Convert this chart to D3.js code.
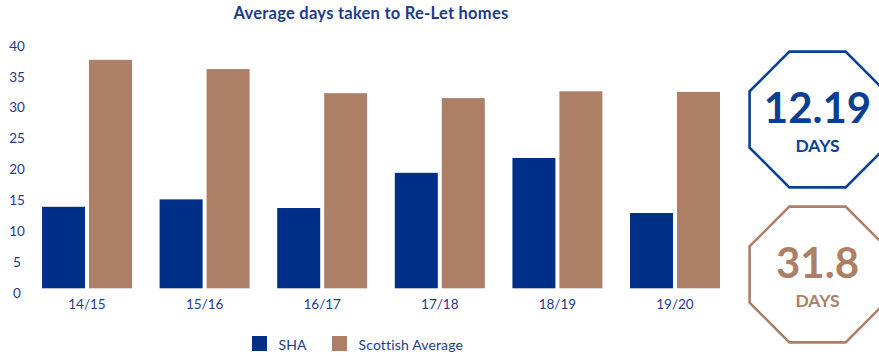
<!DOCTYPE html>
<html>
<head>
<meta charset="utf-8">
<script src="https://cdn.jsdelivr.net/npm/d3@7"></script>
<style>
  body { margin: 0; background: #fff; }
  svg { display: block; font-family: Lato, "Open Sans", sans-serif; }
</style>
</head>
<body>
<svg id="chart" width="879" height="356"></svg>
<script>
// values
const years = ['14/15', '15/16', '16/17', '17/18', '18/19', '19/20'];
const seriesNames = ['SHA', 'Scottish Average'];
const shaDays = [13.2, 14.4, 13.0, 18.7, 21.1, 12.19];
const scottishDays = [37.0, 35.5, 31.6, 30.8, 31.9, 31.8];
const yTicks = [0, 5, 10, 15, 20, 25, 30, 35, 40];

const blue = '#002f87';
const brown = '#ac7f66';
const textBlue = '#1d3b8b';

const svg = d3.select('#chart');

// rows for the grouped bars
const rows = years.map((y, i) => ({ year: y, SHA: shaDays[i], 'Scottish Average': scottishDays[i] }));

const x0 = d3.scaleBand()
    .domain(years)
    .range([28.2, 733.8])
    .paddingInner(0.235)
    .paddingOuter(0.1175);

const x1 = d3.scaleBand()
    .domain(seriesNames)
    .range([0, x0.bandwidth()])
    .paddingInner(0.085);

const y = d3.scaleLinear()
    .domain([0, 40])
    .range([288.3, 41.3]);

const colour = d3.scaleOrdinal().domain(seriesNames).range([blue, brown]);

// title
svg.append('text')
    .attr('x', 371)
    .attr('y', 18.5)
    .attr('text-anchor', 'middle')
    .attr('font-size', 16.5)
    .attr('letter-spacing', 0.25)
    .attr('font-weight', 700)
    .attr('fill', textBlue)
    .text('Average days taken to Re-Let homes');

// y axis - labels only
let yAxis = svg.append('g')
    .call(d3.axisLeft(y).tickValues(yTicks).tickSize(0));
yAxis.select('.domain').remove();
yAxis.selectAll('text')
    .attr('x', 17)
    .attr('y', 4.5)
    .attr('text-anchor', 'middle')
    .attr('font-size', 13.5)
    .attr('font-family', 'Lato, sans-serif')
    .attr('fill', textBlue);

// x axis - labels only
let xAxis = svg.append('g')
    .attr('transform', 'translate(0,' + y(0) + ')')
    .call(d3.axisBottom(x0).tickSize(0).tickPadding(11));
xAxis.select('.domain').remove();
xAxis.selectAll('text')
    .attr('font-size', 13.5)
    .attr('font-family', 'Lato, sans-serif')
    .attr('fill', textBlue);

// bars
svg.append('g')
    .selectAll('g')
    .data(rows)
    .join('g')
    .attr('transform', d => 'translate(' + x0(d.year) + ',0)')
    .selectAll('rect')
    .data(d => seriesNames.map(k => ({ key: k, value: d[k] })))
    .join('rect')
    .attr('x', d => x1(d.key))
    .attr('y', d => y(d.value))
    .attr('width', x1.bandwidth())
    .attr('height', d => y(0) - y(d.value))
    .attr('fill', d => colour(d.key));

// legend
const legend = svg.append('g')
    .selectAll('g')
    .data(seriesNames)
    .join('g')
    .attr('transform', (d, i) => 'translate(' + [252, 332][i] + ',336)');
legend.append('rect')
    .attr('width', 15)
    .attr('height', 15)
    .attr('fill', d => colour(d));
legend.append('text')
    .attr('x', 26.5)
    .attr('y', 13.5)
    .attr('font-size', 14)
    .attr('letter-spacing', 0.15)
    .attr('fill', textBlue)
    .text(d => d);

// octagon badges with the latest year's values
const badges = [
    { value: shaDays[shaDays.length - 1], colour: '#0a3f96', cy: 119.5 },
    { value: scottishDays[scottishDays.length - 1], colour: brown, cy: 274.5 }
];

function octagon(r) {
    const pts = d3.range(8).map(i => {
        const a = Math.PI / 8 + i * Math.PI / 4;
        return [r * Math.cos(a), r * Math.sin(a)];
    });
    return d3.line()(pts) + 'Z';
}

const badge = svg.append('g')
    .selectAll('g')
    .data(badges)
    .join('g')
    .attr('transform', d => 'translate(817.5,' + d.cy + ')');

badge.append('path')
    .attr('d', octagon(73.5))
    .attr('fill', 'none')
    .attr('stroke', d => d.colour)
    .attr('stroke-width', 2.6);

badge.append('text')
    .attr('y', 3.5)
    .attr('text-anchor', 'middle')
    .attr('font-size', 42)
    .attr('font-weight', 700)
    .attr('fill', d => d.colour)
    .text(d => d.value);

badge.append('text')
    .attr('y', 32.5)
    .attr('text-anchor', 'middle')
    .attr('font-size', 17.5)
    .attr('font-weight', 700)
    .attr('fill', d => d.colour)
    .text('DAYS');
</script>
</body>
</html>
